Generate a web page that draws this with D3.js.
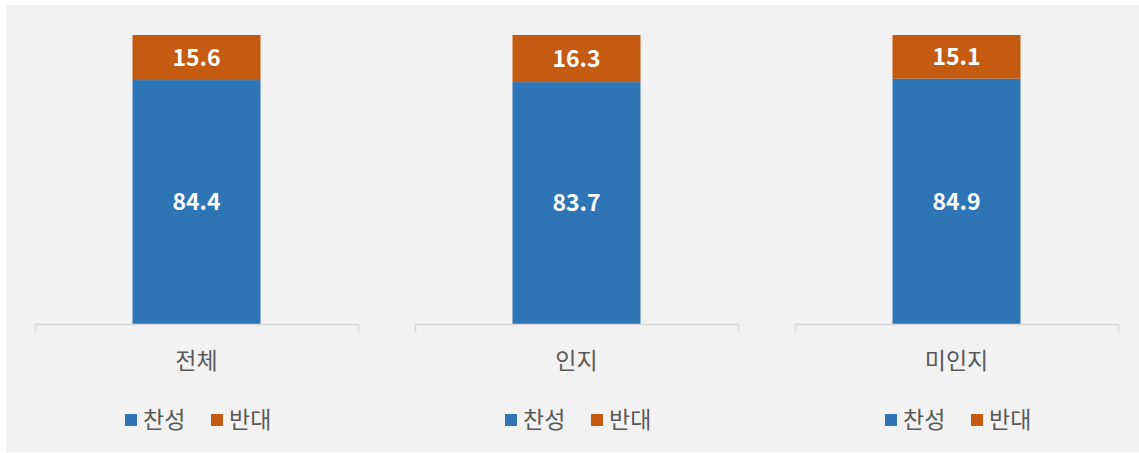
<!DOCTYPE html>
<html>
<head>
<meta charset="utf-8">
<script src="https://cdn.jsdelivr.net/npm/d3@7"></script>
<style>
  html, body { margin: 0; padding: 0; background: #ffffff; }
  svg { display: block; }
  text { font-family: "Noto Sans CJK KR", "Malgun Gothic", sans-serif; }
</style>
</head>
<body>
<svg id="chart" width="1139" height="453"></svg>
<script>
const categories = ["전체", "인지", "미인지"];
const seriesNames = ["찬성", "반대"];
const agree = [84.4, 83.7, 84.9];
const oppose = [15.6, 16.3, 15.1];
const colors = ["#2e75b6", "#c55a11"];

const W = 1139, H = 453;
const svg = d3.select("#chart");

svg.append("rect").attr("x", 6).attr("y", 5).attr("width", W - 6).attr("height", H - 6)
  .attr("fill", "#f2f2f2");

const rows = categories.map((c, i) => ({ cat: c, "찬성": agree[i], "반대": oppose[i] }));
const stacked = d3.stack().keys(seriesNames)(rows);

const panel = d3.scaleBand().domain(categories).range([6.5, 1146.5]);
const y = d3.scaleLinear().domain([0, 100]).range([324, 35]);
const halfAxis = 161.5;
const barW = 128;
const textColor = "#595959";

categories.forEach((cat, i) => {
  const cx = panel(cat) + panel.bandwidth() / 2;
  const g = svg.append("g");
  const x = d3.scaleBand().domain([cat]).range([cx - halfAxis, cx + halfAxis]).paddingInner(0).paddingOuter((2 * halfAxis - barW) / 2 / barW);

  // bars
  stacked.forEach((s, si) => {
    const d = s[i];
    g.append("rect")
      .attr("x", x(cat)).attr("width", x.bandwidth())
      .attr("y", y(d[1])).attr("height", y(d[0]) - y(d[1]))
      .attr("fill", colors[si]);
    g.append("text")
      .attr("x", x(cat) + x.bandwidth() / 2)
      .attr("y", (y(d[0]) + y(d[1])) / 2)
      .attr("dy", "0.36em")
      .attr("text-anchor", "middle")
      .attr("fill", "#ffffff")
      .attr("font-weight", "bold")
      .attr("font-size", 23)
      .text((d[1] - d[0]).toFixed(1));
  });

  // axis
  const axisScale = d3.scaleBand().domain([cat]).range([cx - halfAxis, cx + halfAxis]);
  const ax = g.append("g").attr("transform", "translate(0,324)")
    .call(d3.axisBottom(axisScale).tickSizeInner(0).tickSizeOuter(8).tickPadding(29));
  ax.select(".domain").attr("stroke", "#d9d9d9").attr("stroke-width", 1.3);
  ax.selectAll(".tick line").remove();
  ax.selectAll(".tick text")
    .attr("font-size", 23)
    .attr("fill", textColor)
    .attr("font-family", "'Noto Sans CJK KR', sans-serif");

  // legend
  const lg = g.append("g").attr("transform", `translate(${cx},420)`);
  const items = [{ off: -71.5, name: seriesNames[0], c: colors[0] }, { off: 14.5, name: seriesNames[1], c: colors[1] }];
  items.forEach(it => {
    lg.append("rect").attr("x", it.off).attr("y", -6).attr("width", 12).attr("height", 12).attr("fill", it.c);
    lg.append("text").attr("x", it.off + 18).attr("y", 0).attr("dy", "0.36em")
      .attr("font-size", 23).attr("fill", textColor).text(it.name);
  });
});
</script>
</body>
</html>
